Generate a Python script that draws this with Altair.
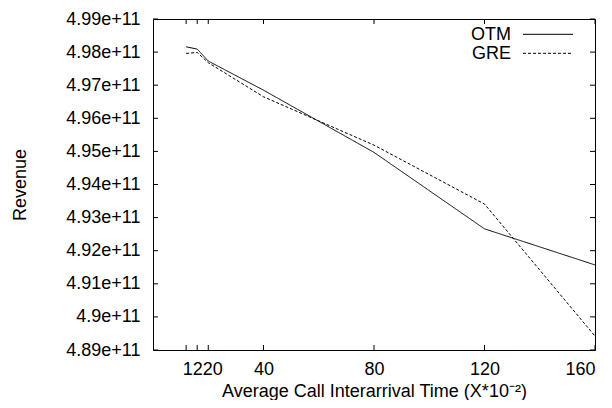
import altair as alt
import pandas as pd

# ---- data ----
x_vals = [12, 16, 20, 40, 80, 120, 160]
otm_vals = [4.9816e11, 4.9809e11, 4.9773e11, 4.9685e11, 4.9497e11, 4.9266e11, 4.9157e11]
gre_vals = [4.9796e11, 4.9799e11, 4.9768e11, 4.9665e11, 4.9519e11, 4.9341e11, 4.8942e11]
series_names = ["OTM", "GRE"]
x_ticks = [12, 16, 20, 40, 80, 120, 160]
y_ticks = [489000000000, 490000000000, 491000000000, 492000000000, 493000000000,
           494000000000, 495000000000, 496000000000, 497000000000, 498000000000,
           499000000000]

W, H = 442, 331
FONT = "Liberation Sans"
FS = 18

rows = []
for name, vals in zip(series_names, [otm_vals, gre_vals]):
    for xv, yv in zip(x_vals, vals):
        rows.append({"x": xv, "revenue": yv, "series": name})
df = pd.DataFrame(rows)

xscale = alt.Scale(domain=[0, 160], nice=False, zero=False)
yscale = alt.Scale(domain=[489000000000, 499000000000], nice=False, zero=False)

x_axis = alt.Axis(values=x_ticks, tickSize=0, domain=False, grid=False,
                  labelOverlap=False, labelPadding=10,
                  labelExpr="datum.value == 16 ? '1220' : (datum.value == 12 || datum.value == 20) ? '' : datum.label",
                  labelOffset={"condition": {"test": "datum.value == 16", "value": 5}, "value": 0},
                  title="Average Call Interarrival Time (X*10⁻²)",
                  titleBaseline="alphabetic", titleY=46)
y_axis = alt.Axis(values=y_ticks, tickSize=0, domain=False, grid=False,
                  labelPadding=13, labelOverlap=False,
                  labelExpr="format(datum.value, '.2~e')",
                  title="Revenue", titleBaseline="alphabetic",
                  titleX=-128, titleY=H / 2, titleAlign="center")

lines = alt.Chart(df).mark_line(color="black", strokeWidth=1).encode(
    x=alt.X("x:Q", scale=xscale, axis=x_axis),
    y=alt.Y("revenue:Q", scale=yscale, axis=y_axis),
    strokeDash=alt.StrokeDash("series:N",
                              scale=alt.Scale(domain=series_names, range=[[1, 0], [3, 2]]),
                              legend=None),
    detail="series:N",
)

xt = pd.DataFrame({"t": x_ticks})
yt = pd.DataFrame({"t": y_ticks})

xtick_bottom = alt.Chart(xt).mark_rule(color="black", strokeWidth=1).encode(
    x=alt.X("t:Q", scale=xscale, axis=x_axis), y=alt.value(H), y2=alt.value(H - 5))
xtick_top = alt.Chart(xt).mark_rule(color="black", strokeWidth=1).encode(
    x=alt.X("t:Q", scale=xscale, axis=x_axis), y=alt.value(0), y2=alt.value(5))
ytick_left = alt.Chart(yt).mark_rule(color="black", strokeWidth=1).encode(
    y=alt.Y("t:Q", scale=yscale, axis=y_axis), x=alt.value(0), x2=alt.value(5))
ytick_right = alt.Chart(yt).mark_rule(color="black", strokeWidth=1).encode(
    y=alt.Y("t:Q", scale=yscale, axis=y_axis), x=alt.value(W), x2=alt.value(W - 5))

# legend (top right, gnuplot style: label then sample line)
leg_layers = []
leg_pos = [(21, 15.3), (39.5, 34.3)]
for name, (ty, ly), dash in zip(series_names, leg_pos, [[1, 0], [3, 2]]):
    ldf = pd.DataFrame({"series": [name]})
    leg_layers.append(
        alt.Chart(ldf).mark_text(align="right", baseline="alphabetic", font=FONT,
                                 fontSize=FS, color="black").encode(
            text="series:N", x=alt.value(358), y=alt.value(ty)))
    leg_layers.append(
        alt.Chart(ldf).mark_rule(color="black", strokeWidth=1, strokeDash=dash).encode(
            x=alt.value(370), x2=alt.value(420), y=alt.value(ly)))

chart = alt.layer(lines, xtick_bottom, xtick_top, ytick_left, ytick_right, *leg_layers).properties(
    width=W, height=H,
    autosize=alt.AutoSizeParams(type="none"),
    padding={"left": 145, "top": 11, "right": 5, "bottom": 50},
).configure(font=FONT).configure_view(
    stroke="black", strokeWidth=1
).configure_axis(
    labelFont=FONT, titleFont=FONT, labelFontSize=FS, titleFontSize=FS,
    labelColor="black", titleColor="black", titleFontWeight="normal"
)

chart.save("out.html", embed_options={"renderer": "svg", "actions": False})
